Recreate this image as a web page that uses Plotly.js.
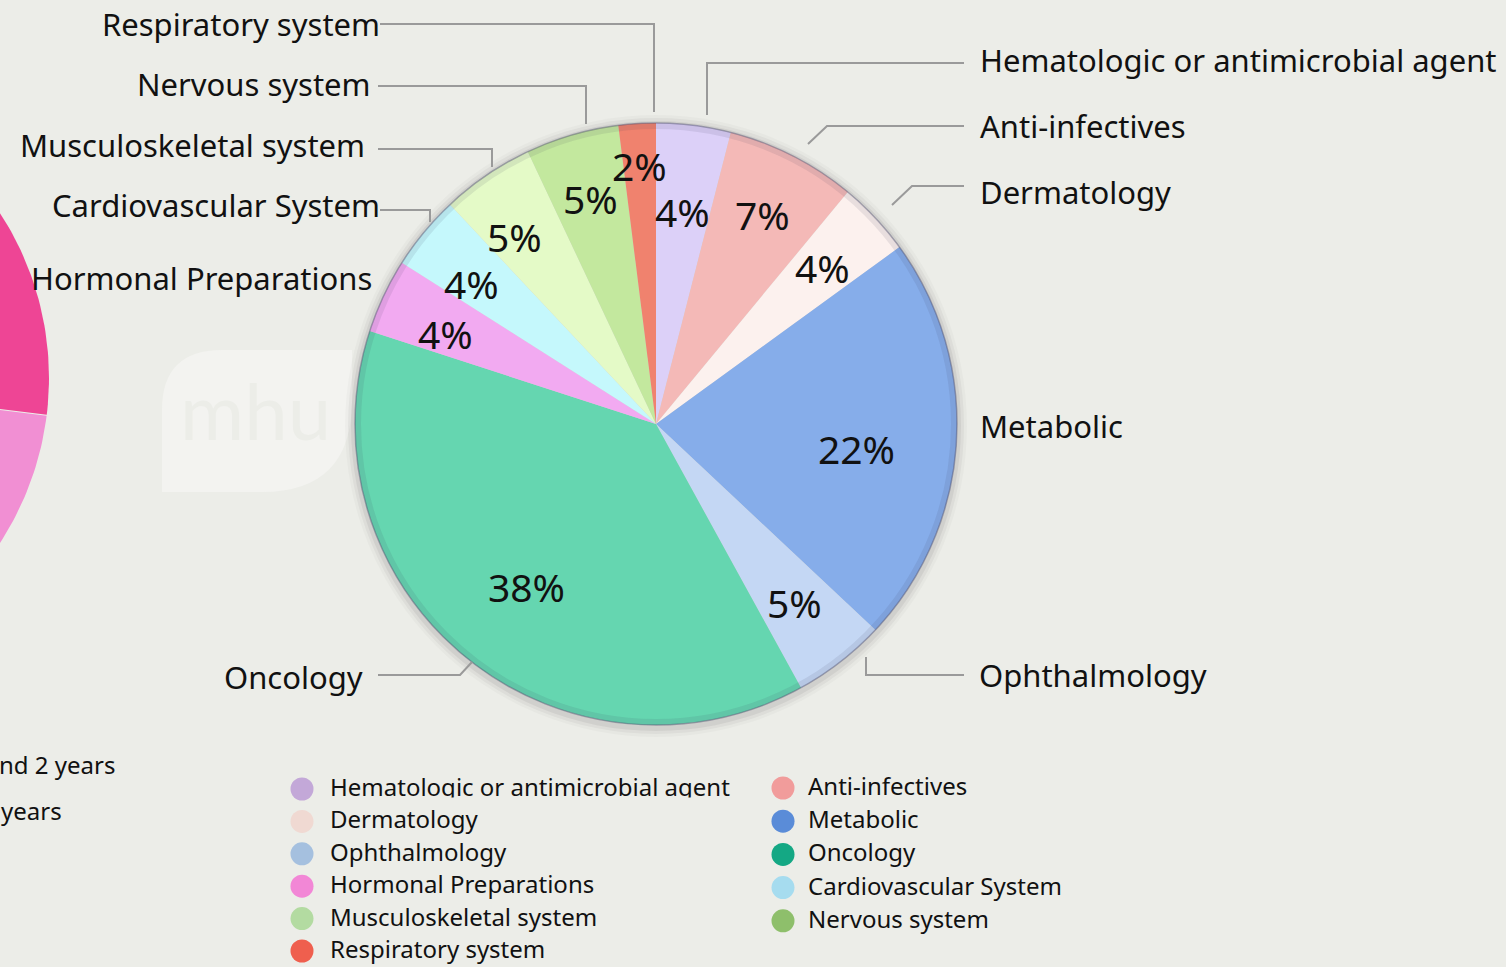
<!DOCTYPE html>
<html>
<head>
<meta charset="utf-8">
<script src="https://cdn.plot.ly/plotly-3.0.1.min.js"></script>
<style>
  html, body { margin: 0; padding: 0; background: #ecede8; }
  #chart { width: 1506px; height: 967px; }
</style>
</head>
<body>
<div id="chart"></div>
<script>
// ---------------- data ----------------
const categories = [
  "Hematologic or antimicrobial agent", "Anti-infectives", "Dermatology", "Metabolic",
  "Ophthalmology", "Oncology", "Hormonal Preparations", "Cardiovascular System",
  "Musculoskeletal system", "Nervous system", "Respiratory system"
];
const shares = [4, 7, 4, 22, 5, 38, 4, 4, 5, 5, 2];   // percent
const sliceColors = [
  "#dcd0f8", "#f4b9b7", "#fcf1ee", "#86adea", "#c4d7f4", "#65d6b0",
  "#f2aaf1", "#c5f8fc", "#e4fac7", "#c3e89e", "#f0826e"
];
const legendColors = [
  "#c3a8d8", "#f19c9b", "#f0d9d2", "#5a8cd8", "#a5c0df", "#14a884",
  "#f287d6", "#a6dcef", "#b3dba1", "#8ebf6b", "#ef5f4e"
];
// neighbouring (cropped) chart on the left edge
const leftShares = [27, 73];
const leftColors = ["#ee4595", "#f18fd3"];
const leftLegendText = ["nd 2 years", "years"];

// ---------------- layout helpers (pixel space) ----------------
const W = 1506, H = 967;
const cx = 656, cy = 424, R = 301;
const FONT = "Noto Sans, Open Sans, sans-serif";

// percent label placement (radius fraction, angle nudge in degrees)
const pctRadius = [0.71, 0.78, 0.76, 0.67, 0.75, 0.69, 0.76, 0.77, 0.78, 0.78, 0.86];
const pctAngleNudge = [0, 0, 0, 3.4, 0, -1, -2, -2.3, -3, 0, 0];

// outside labels: [x, y, anchor]
const outAnchors = [
  [978, 60, "left"], [978, 126, "left"], [978, 192, "left"], [978, 426, "left"],
  [977, 675, "left"], [365, 677, "right"], [374, 278, "right"], [382, 205, "right"],
  [367, 145, "right"], [373, 84, "right"], [382, 24, "right"]
];
const leaderPaths = [
  "M 964 63 L 707 63 L 707 115",
  "M 964 126 L 827 126 L 808 144",
  "M 964 186 L 912 186 L 892 205",
  null,
  "M 964 675 L 866 675 L 866 657",
  "M 378 675 L 460 675 L 472 662",
  null,
  "M 380 210 L 430 210 L 430 222",
  "M 378 149 L 492 149 L 492 167",
  "M 378 86 L 586 86 L 586 124",
  "M 380 24 L 654 24 L 654 112"
];

// ---------------- traces ----------------
const pie = {
  type: "pie",
  labels: categories,
  values: shares,
  sort: false,
  direction: "clockwise",
  rotation: 0,
  textinfo: "none",
  hoverinfo: "label+percent",
  showlegend: false,
  marker: { colors: sliceColors, line: { width: 0 } },
  domain: { x: [(cx - R) / W, (cx + R) / W], y: [1 - (cy + R) / H, 1 - (cy - R) / H] }
};

// cropped neighbour pie (left edge), built from its shares
const lcx = -253, lcy = 378, lR = 302;
const leftTraces = [];
{
  const total = leftShares.reduce((a, b) => a + b, 0);
  let start = 0;
  leftShares.forEach((v, i) => {
    const a0 = start / total * 360, a1 = (start + v) / total * 360;
    const xs = [lcx], ys = [lcy];
    for (let a = a0; a <= a1 + 1e-9; a += 1) {
      const r = a * Math.PI / 180;
      xs.push(lcx + lR * Math.sin(r)); ys.push(lcy - lR * Math.cos(r));
    }
    xs.push(lcx); ys.push(lcy);
    leftTraces.push({
      type: "scatter", mode: "lines", x: xs, y: ys, fill: "toself",
      fillcolor: leftColors[i], line: { width: 0, color: leftColors[i] },
      hoverinfo: "skip", showlegend: false
    });
    start += v;
  });
}

// custom legend (two columns)
const legX = [], legY = [], legTX = [];
categories.forEach((c, i) => {
  const col = i % 2, row = Math.floor(i / 2);
  legX.push(col === 0 ? 302 : 783);
  legY.push(col === 0 ? 789 + row * 32.4 : 788 + row * 33.2);
  legTX.push(col === 0 ? 330 : 808);
});
const legendMarkers = {
  type: "scatter", mode: "markers", x: legX, y: legY,
  marker: { size: 23, color: legendColors, line: { width: 0 } },
  hoverinfo: "skip", showlegend: false
};
const legendText = {
  type: "scatter", mode: "text", x: legTX, y: legY.map(v => v + 1), text: categories,
  textposition: "middle right",
  textfont: { family: FONT, size: 24, color: "#111" },
  hoverinfo: "skip", showlegend: false, cliponaxis: false
};

// ---------------- annotations ----------------
const annotations = [];
{
  let start = 0;
  shares.forEach((v, i) => {
    const mid = (start + v / 2) / 100 * 360 + pctAngleNudge[i];
    const r = mid * Math.PI / 180;
    const rr = R * pctRadius[i];
    annotations.push({
      xref: "x", yref: "y", x: cx + rr * Math.sin(r), y: cy - rr * Math.cos(r),
      text: v + "%", showarrow: false, xanchor: "center", yanchor: "middle",
      font: { family: FONT, size: 39, color: "#111" }
    });
    start += v;
  });
}
categories.forEach((c, i) => {
  const a = outAnchors[i];
  annotations.push({
    xref: "x", yref: "y", x: a[0], y: a[1], text: c, showarrow: false,
    xanchor: a[2], yanchor: "middle",
    font: { family: FONT, size: 31, color: "#111" }
  });
});
leftLegendText.forEach((t, i) => {
  annotations.push({
    xref: "x", yref: "y", x: 0, y: [764, 810][i], xshift: [-3, -1][i],
    text: t, showarrow: false,
    xanchor: "left", yanchor: "middle",
    font: { family: FONT, size: 24, color: "#111" }
  });
});
// watermark text
annotations.push({
  xref: "x", yref: "y", x: 255, y: 410, text: "mhu", showarrow: false,
  xanchor: "center", yanchor: "middle",
  font: { family: "Lato, Noto Sans, sans-serif", size: 78, color: "#ecede8" }
});

// ---------------- shapes ----------------
const shapes = [];
// watermark leaf
shapes.push({
  type: "path", xref: "x", yref: "y", layer: "below",
  path: "M 162 410 Q 162 350 222 350 L 352 350 L 352 400 Q 352 492 262 492 L 162 492 Z",
  fillcolor: "#f3f3f0", line: { width: 0 }
});
// soft shadow around the pie
[10, 7, 4].forEach((d, k) => {
  shapes.push({
    type: "circle", xref: "x", yref: "y", layer: "below",
    x0: cx - R - d, x1: cx + R + d, y0: cy - R - d + 2, y1: cy + R + d + 2,
    fillcolor: "rgba(0,0,0," + (0.025 + k * 0.015) + ")", line: { width: 0 }
  });
});
// darker rim
shapes.push({
  type: "circle", xref: "x", yref: "y", layer: "above",
  x0: cx - R + 3, x1: cx + R - 3, y0: cy - R + 3, y1: cy + R - 3,
  fillcolor: "rgba(0,0,0,0)", line: { width: 6, color: "rgba(60,60,90,0.10)" }
});
shapes.push({
  type: "circle", xref: "x", yref: "y", layer: "above",
  x0: cx - R, x1: cx + R, y0: cy - R, y1: cy + R,
  fillcolor: "rgba(0,0,0,0)", line: { width: 1.5, color: "rgba(80,80,110,0.45)" }
});
// leader lines
leaderPaths.forEach(p => {
  if (!p) return;
  shapes.push({
    type: "path", xref: "x", yref: "y", layer: "above", path: p,
    line: { width: 2, color: "#9a9a9a" }
  });
});
// clipped bottom of first legend label
shapes.push({
  type: "rect", xref: "x", yref: "y", layer: "above",
  x0: 328, x1: 740, y0: 797.5, y1: 805,
  fillcolor: "#ecede8", line: { width: 0 }
});

const layout = {
  width: W, height: H,
  margin: { l: 0, r: 0, t: 0, b: 0 },
  paper_bgcolor: "#ecede8", plot_bgcolor: "rgba(0,0,0,0)",
  showlegend: false,
  xaxis: { range: [0, W], visible: false, fixedrange: true },
  yaxis: { range: [H, 0], visible: false, fixedrange: true },
  shapes: shapes,
  annotations: annotations
};

Plotly.newPlot("chart", [...leftTraces, legendMarkers, legendText, pie], layout,
  { displayModeBar: false, staticPlot: true });
</script>
</body>
</html>
